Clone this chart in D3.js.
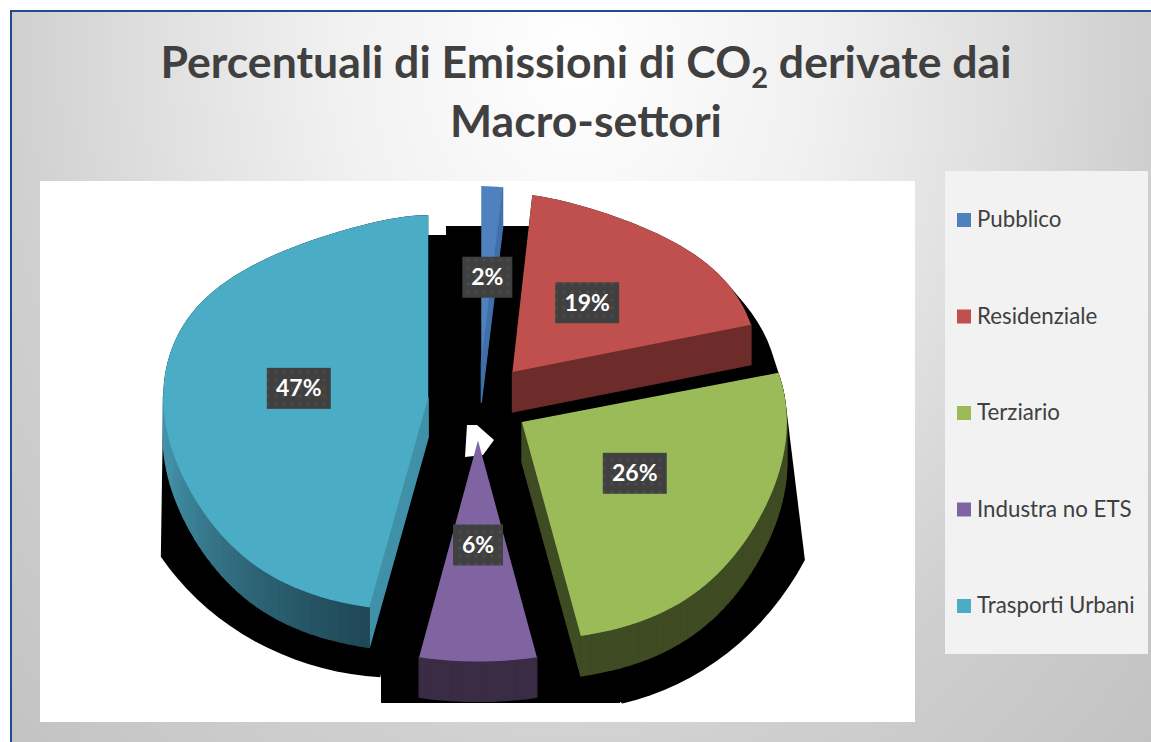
<!DOCTYPE html>
<html>
<head>
<meta charset="utf-8">
<script src="https://cdn.jsdelivr.net/npm/d3@7"></script>
<style>
  html, body { margin: 0; padding: 0; background: #fff; }
  svg { display: block; }
  text { font-family: Lato, "Open Sans", sans-serif; }
</style>
</head>
<body>
<svg id="chart" width="1151" height="742"></svg>
<script>
// dati
const categories = ['Pubblico', 'Residenziale', 'Terziario', 'Industra no ETS', 'Trasporti Urbani'];
const percentages = [2, 19, 26, 6, 47];
const topColors = ['#4f81bd', '#c0504d', '#9bbb59', '#8064a2', '#4bacc6'];
const wallColors = ['#3f70ab', '#6d2b2a', '#3f4b22', '#392c44', '#4091a8'];
const arcFrontColors = ['#3f70ab', '#6d2b2a', '#3f4b22', '#392c44', '#1f4654'];
const arcSideColors = ['#3f70ab', '#6d2b2a', '#3f4b22', '#392c44', '#4391a8'];
const explode = [52, 52, 52, 52, 50];
const sideScale = [1, 0.93, 1, 1, 1];
const labelNudge = [[-2, 5], [-5, 0], [3, -3], [0, 0], [0, 0]];
const drawOrder = [0, 1, 4, 2, 3];

const svg = d3.select('#chart');
const defs = svg.append('defs');

// sfondo a gradiente radiale
const bg = defs.append('radialGradient')
  .attr('id', 'bgGrad')
  .attr('gradientUnits', 'userSpaceOnUse')
  .attr('cx', 0).attr('cy', 0).attr('r', 1.4)
  .attr('gradientTransform', 'translate(575,55) scale(600,750)');
[[0, '#ffffff'], [0.28, '#f1f1f1'], [0.48, '#e1e1e1'], [0.68, '#cfcfcf'], [1, '#c0c0c0']].forEach((s) => {
  bg.append('stop').attr('offset', s[0]).attr('stop-color', s[1]);
});

// trama delle etichette
const dots = defs.append('pattern')
  .attr('id', 'labelDots')
  .attr('patternUnits', 'userSpaceOnUse')
  .attr('width', 8).attr('height', 8);
dots.append('rect').attr('width', 8).attr('height', 8).attr('fill', '#404040');
dots.append('circle').attr('cx', 4).attr('cy', 4).attr('r', 1.6).attr('fill', '#4c4c4c');

// cornice
svg.append('rect').attr('x', 11).attr('y', 11).attr('width', 1140).attr('height', 731)
  .attr('fill', 'url(#bgGrad)');
svg.append('rect').attr('x', 10).attr('y', 10).attr('width', 1141).attr('height', 2).attr('fill', '#1f4e8c');
svg.append('rect').attr('x', 10).attr('y', 10).attr('width', 2).attr('height', 732).attr('fill', '#1f4e8c');

// titolo
const title = svg.append('text')
  .attr('fill', '#404040').attr('font-weight', 700).attr('font-size', 44.6).attr('text-anchor', 'middle');
const line1 = title.append('tspan').attr('x', 586).attr('y', 78);
line1.append('tspan').text('Percentuali di Emissioni di CO');
line1.append('tspan').attr('font-size', 29).attr('dy', 10).text('2');
line1.append('tspan').attr('dy', -10).text(' derivate dai');
title.append('tspan').attr('x', 586).attr('y', 137).text('Macro-settori');

// area del grafico
svg.append('rect').attr('x', 40).attr('y', 181).attr('width', 875).attr('height', 541).attr('fill', '#fff');

// proiezione della torta
const cx = 478, cy = 401, R = 265, depth = 40;
const squash = (Y) => cy + 0.75 * Y + 0.06 * Y * Y / R;
// restringe il retro e allarga il fronte della fetta
const widen = (c) => (c > 0 ? 1 - 0.37 * Math.pow(c, 5) : 1 + 0.2 * Math.pow(c, 4));
function slicePoint(d, i, r) {
  const a = (d.startAngle + d.endAngle) / 2;
  return (theta) => {
    const c = (r / R) * Math.cos(theta);
    return [
      cx + explode[i] * Math.sin(a) + r * Math.sin(theta) * widen(c) * sideScale[i],
      squash(-explode[i] * Math.cos(a) - r * Math.cos(theta)),
    ];
  };
}
const lower = (p) => [p[0], p[1] + depth];
const closed = d3.line().curve(d3.curveLinearClosed);
const arcs = d3.pie().sort(null).value((d) => d)(percentages);

const slices = arcs.map((d, i) => {
  const tip = slicePoint(d, i, 0)(0);
  const onArc = slicePoint(d, i, R);
  const n = Math.max(4, Math.ceil((d.endAngle - d.startAngle) / (Math.PI / 90)));
  const thetas = d3.range(n + 1).map((k) => d.startAngle + (d.endAngle - d.startAngle) * k / n);
  return { d, i, tip, thetas, rim: thetas.map(onArc) };
});
const prism = (s) => {
  const pts = [s.tip].concat(s.rim);
  return pts.concat(pts.map(lower));
};
function ellipseArc(e) {
  return d3.range(e.from, e.to + 0.1, 3).map((deg) => {
    const t = deg * Math.PI / 180;
    return [e.x + e.rx * Math.sin(t), e.y - e.ry * Math.cos(t)];
  });
}

// ombra nera dietro le fette
const shadow = svg.append('g').attr('fill', '#000');
[
  { base: [4], arc: { x: 400, y: 420, rx: 282, ry: 258, from: 184, to: 240 } },
  { base: [2], arc: { x: 565, y: 410, rx: 277, ry: 300, from: 120, to: 168 } },
  { base: [1, 2], arc: { x: 470, y: 390, rx: 308, ry: 190, from: 60, to: 90 } },
].forEach((sh) => {
  const pts = sh.base.flatMap((i) => prism(slices[i])).concat(ellipseArc(sh.arc));
  shadow.append('path').attr('d', closed(d3.polygonHull(pts)));
});
[[446, 226, 84, 20], [418, 235, 112, 223], [381, 458, 239, 245]].forEach((b) => {
  shadow.append('rect').attr('x', b[0]).attr('y', b[1]).attr('width', b[2]).attr('height', b[3]);
});
// buco bianco al centro
svg.append('path')
  .attr('fill', '#fff')
  .attr('d', closed([[467, 425], [477, 425], [494, 440], [483, 455], [465, 457]]));

// fette: prima le pareti visibili, poi la faccia superiore
const pie3d = svg.append('g');
drawOrder.forEach((i) => {
  const s = slices[i];
  const g = pie3d.append('g');
  const wall = (a, b, color) => g.append('path')
    .attr('fill', color).attr('stroke', color).attr('stroke-width', 1.2)
    .attr('d', closed([a, b, lower(b), lower(a)]));
  const shade = d3.interpolateRgb(arcFrontColors[i], arcSideColors[i]);

  if (s.rim[0][0] < s.tip[0]) wall(s.tip, s.rim[0], wallColors[i]);
  s.rim.forEach((p, k) => {
    if (k === 0) return;
    const q = s.rim[k - 1];
    if (p[0] < q[0]) wall(q, p, shade(Math.min(1, k / (s.rim.length * 0.4))));
  });
  const last = s.rim[s.rim.length - 1];
  if (s.tip[0] < last[0]) wall(last, s.tip, wallColors[i]);

  g.append('path')
    .attr('fill', topColors[i])
    .attr('d', closed([s.tip].concat(s.rim)));
});

// etichette percentuali
const labels = svg.append('g');
const boxH = 41;
slices.forEach((s) => {
  const a = (s.d.startAngle + s.d.endAngle) / 2;
  const p = slicePoint(s.d, s.i, 130)(a);
  const x = p[0] + labelNudge[s.i][0];
  const y = p[1] + labelNudge[s.i][1];
  const w = percentages[s.i] < 10 ? 50 : 64;
  labels.append('rect')
    .attr('x', x - w / 2).attr('y', y - boxH / 2)
    .attr('width', w).attr('height', boxH)
    .attr('fill', 'url(#labelDots)');
  labels.append('text')
    .attr('x', x).attr('y', y + 8)
    .attr('text-anchor', 'middle')
    .attr('font-size', 23).attr('font-weight', 700).attr('fill', '#fff')
    .text(percentages[s.i] + '%');
});

// legenda
svg.append('rect').attr('x', 945).attr('y', 171).attr('width', 203).attr('height', 483).attr('fill', '#f2f2f2');
const legendY = d3.scalePoint().domain(categories).range([220, 606]);
const color = d3.scaleOrdinal().domain(categories).range(topColors);
const legend = svg.append('g')
  .selectAll('g')
  .data(categories)
  .enter()
  .append('g')
  .attr('transform', (d) => `translate(0,${legendY(d)})`);
legend.append('rect')
  .attr('x', 957).attr('y', -7).attr('width', 14).attr('height', 14)
  .attr('fill', (d) => color(d));
legend.append('text')
  .attr('x', 977).attr('y', 7)
  .attr('font-size', 22.3).attr('fill', '#404040')
  .text((d) => d);
</script>
</body>
</html>
